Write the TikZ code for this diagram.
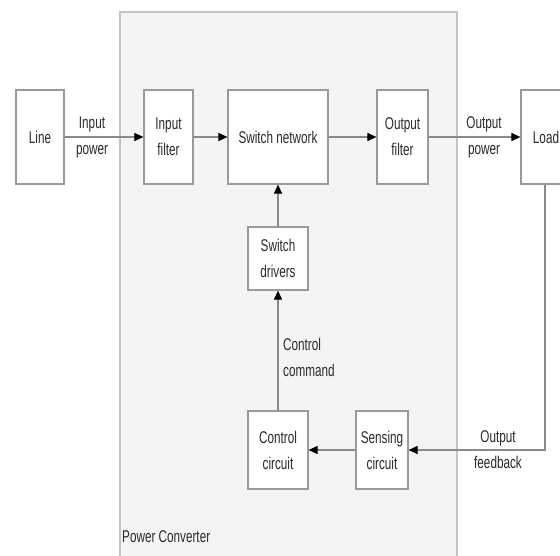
\documentclass[tikz,border=0pt]{standalone}
\usepackage{fontspec}
\setmainfont{Liberation Sans}[FakeStretch=0.69]
\usetikzlibrary{arrows.meta}
\definecolor{boxline}{HTML}{9A9A9A}
\definecolor{conline}{HTML}{8A8A8A}
\definecolor{contfill}{HTML}{F4F4F4}
\definecolor{contline}{HTML}{C4C4C4}
\definecolor{txt}{HTML}{2A2A2A}
\tikzset{
  blk/.style={draw=boxline, line width=1.2pt, fill=white, inner sep=0pt, align=center,
    font=\fontsize{17}{26}\selectfont, text=txt},
  lbl/.style={inner sep=0pt, align=center, font=\fontsize{17}{26}\selectfont, text=txt},
  con/.style={draw=conline, line width=1.1pt, -{Triangle[color=black,length=9pt,width=8pt]}},
}
\begin{document}
\begin{tikzpicture}[x=1pt,y=-1pt]
\useasboundingbox (0,0) rectangle (560,555);
\clip (0,0) rectangle (560,555);
\fill[white] (0,0) rectangle (560,555);
% container
\draw[draw=contline, fill=contfill, line width=1.2pt] (120,12) rectangle (457,570);
\node[lbl, anchor=west] (pc) at (122,537) {Power Converter};
% blocks
\node[blk, minimum width=48pt, minimum height=94pt] (line) at (40,137) {Line};
\node[blk, minimum width=49pt, minimum height=94pt] (inf) at (168.5,137) {Input\\filter};
\node[blk, minimum width=100pt, minimum height=94pt] (sw) at (278,137) {Switch network};
\node[blk, minimum width=51pt, minimum height=94pt] (outf) at (402.5,137) {Output\\filter};
\node[blk, minimum width=50pt, minimum height=94pt] (load) at (546,137) {Load};
\node[blk, minimum width=60pt, minimum height=63pt] (drv) at (278,258.5) {Switch\\drivers};
\node[blk, minimum width=60pt, minimum height=78pt] (ctl) at (278,450) {Control\\circuit};
\node[blk, minimum width=52pt, minimum height=78pt] (sen) at (382,450) {Sensing\\circuit};
% labels
\node[lbl] (ip) at (92,137) {Input\\power};
\node[lbl] (op) at (484,137) {Output\\power};
\node[lbl, align=left, anchor=west] (cc) at (283,357) {Control\\command};
\node[lbl] (of) at (498,450) {Output\\feedback};
% connectors
\draw[con] (line.east) -- (inf.west);
\draw[con] (inf.east) -- (sw.west);
\draw[con] (sw.east) -- (outf.west);
\draw[con] (outf.east) -- (load.west);
\draw[con] (drv.north) -- (sw.south);
\draw[con] (ctl.north) -- (drv.south);
\draw[con] (sen.west) -- (ctl.east);
\coordinate (fb) at (545,450);
\draw[con] (load.south -| fb) -- (fb) -- (sen.east);
\end{tikzpicture}
\end{document}
